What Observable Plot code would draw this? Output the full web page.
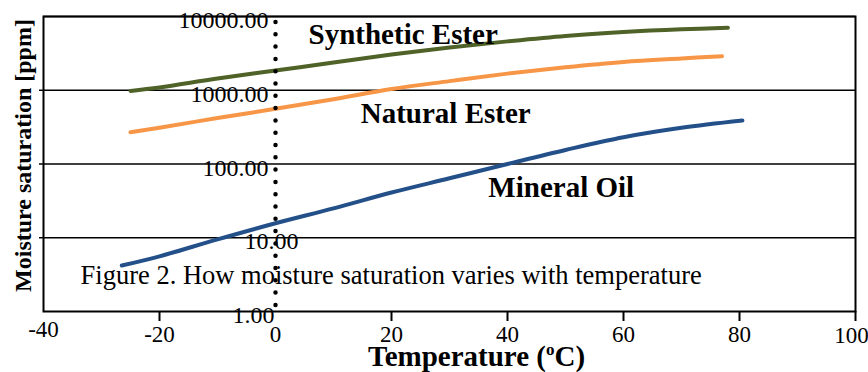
<!DOCTYPE html>
<html>
<head>
<meta charset="utf-8">
<script src="https://cdn.jsdelivr.net/npm/d3@7"></script>
<script src="https://cdn.jsdelivr.net/npm/@observablehq/plot@0.6"></script>
<style>
  html, body { margin: 0; padding: 0; background: white; }
</style>
</head>
<body>
<script>
// ---- data ----
const synthT = [-25, -20, -10, 0, 10, 20, 30, 40, 50, 60, 70, 78];
const synthV = [980, 1090, 1440, 1850, 2380, 3050, 3800, 4600, 5450, 6150, 6700, 7030];
const natT = [-25, -20, -10, 0, 10, 20, 30, 40, 50, 60, 70, 77];
const natV = [270, 310, 420, 560, 755, 1040, 1330, 1680, 2050, 2420, 2700, 2900];
const minT = [-26.5, -20, -10, 0, 10, 20, 30, 40, 50, 60, 70, 80.5];
const minV = [4.2, 5.6, 9.5, 15.7, 25, 41, 64, 100, 155, 231, 310, 389];

const seriesNames = ["Synthetic Ester", "Natural Ester", "Mineral Oil"];
const labelX = [5.7, 14.7, 36.7];
const labelY = [5700, 488, 47];

const xTickLabels = [-20, 0, 20, 40, 60, 80];
const xTickLabelFirst = [-40];
const xTickLabelLast = [100];
const xTickMarks = [-20, 20, 40, 60, 80, 100];
const yGrid = [10, 100, 1000, 10000];
const yTickLabelsA = [10000, 1000, 100];
const yTickLabelB = [10];
const yTickLabelC = [1];

const caption = "Figure 2. How moisture saturation varies with temperature";
const yTitle = "Moisture saturation [ppm]";
const xTitleParts = ["Temperature (", "o", "C)"];
const xTitle = xTitleParts.join("");

const colors = ["#4F6228", "#F79646", "#24508A"];

const toRows = (ts, vs) => ts.map((t, i) => ({t, v: vs[i]}));
const synth = toRows(synthT, synthV);
const nat = toRows(natT, natV);
const mineral = toRows(minT, minV);
const labels = seriesNames.map((name, i) => ({name, x: labelX[i], y: labelY[i]}));

const fmt = d => d.toFixed(2);
const plain = d => String(d);

const svg = Plot.plot({
  width: 868,
  height: 372,
  marginLeft: 43,
  marginRight: 13,
  marginTop: 16,
  marginBottom: 61,
  x: {domain: [-40, 100]},
  y: {type: "log", domain: [1, 10000]},
  style: {fontFamily: "'Liberation Serif', 'Times New Roman', serif", fontSize: "23px", color: "#000", background: "white"},
  marks: [
    Plot.ruleY(yGrid, {stroke: "black", strokeWidth: 1.6}),
    Plot.frame({stroke: "black", strokeWidth: 2}),
    Plot.axisY({ticks: [10, 100, 1000], tickSize: 4, tickFormat: () => "", label: null, strokeWidth: 1.5}),
    Plot.axisX({ticks: xTickMarks, tickSize: 10, tickFormat: () => "", label: null, strokeWidth: 2}),
    Plot.axisX({ticks: xTickLabels, tickSize: 0, tickPadding: 14, tickFormat: plain, label: null, fontSize: 23}),
    Plot.axisX({ticks: xTickLabelFirst, tickSize: 0, tickPadding: 9, tickFormat: plain, label: null, fontSize: 23}),
    Plot.axisX({ticks: xTickLabelLast, tickSize: 0, tickPadding: 15, tickFormat: plain, label: null, fontSize: 23, dx: -4}),
    Plot.text(yTickLabelsA, {x: 0, y: d => d, text: fmt, textAnchor: "end", lineAnchor: "middle", dx: -7, dy: 4, fontSize: 24}),
    Plot.text(yTickLabelB, {x: 0, y: d => d, text: fmt, textAnchor: "end", lineAnchor: "middle", dx: 23, dy: 4, fontSize: 24}),
    Plot.text(yTickLabelC, {x: 0, y: d => d, text: fmt, textAnchor: "end", lineAnchor: "middle", dx: -1, dy: 4, fontSize: 24}),
    Plot.line(synth, {x: "t", y: "v", stroke: colors[0], strokeWidth: 4, curve: "catmull-rom"}),
    Plot.line(nat, {x: "t", y: "v", stroke: colors[1], strokeWidth: 4, curve: "catmull-rom"}),
    Plot.line(mineral, {x: "t", y: "v", stroke: colors[2], strokeWidth: 4, curve: "catmull-rom"}),
    Plot.ruleX([0], {stroke: "black", strokeWidth: 4.5, strokeDasharray: "0 12.3", strokeLinecap: "round", insetTop: 6, insetBottom: -6}),
    Plot.text(labels, {x: "x", y: "y", text: "name", textAnchor: "start", lineAnchor: "middle", fontWeight: "bold", fontSize: 29}),
    Plot.text([caption], {x: -33.6, y: 3.08, text: d => d, textAnchor: "start", lineAnchor: "middle", fontSize: 26.5}),
    Plot.text([xTitle], {frameAnchor: "bottom", text: d => d, textAnchor: "middle", lineAnchor: "middle", dx: 27, dy: 45, fontWeight: "bold", fontSize: 29}),
    Plot.text([yTitle], {frameAnchor: "left", text: d => d, rotate: -90, textAnchor: "middle", lineAnchor: "middle", dx: -19.7, dy: -8.5, fontWeight: "bold", fontSize: 24})
  ]
});

// superscript "o" in the x title
d3.select(svg).selectAll("text").filter(function() { return this.textContent === xTitle; }).each(function() {
  const t = d3.select(this);
  t.text(null);
  t.append("tspan").text(xTitleParts[0]);
  t.append("tspan").attr("font-size", 17).attr("dy", -11).text(xTitleParts[1]);
  t.append("tspan").attr("dy", 11).text(xTitleParts[2]);
});

document.body.appendChild(svg);
</script>
</body>
</html>
